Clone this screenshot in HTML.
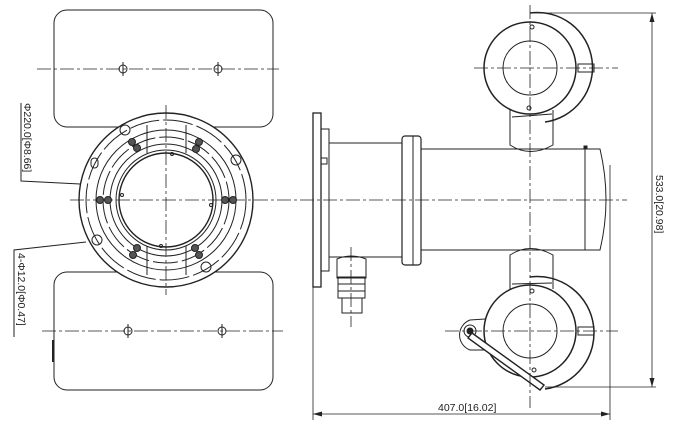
<!DOCTYPE html>
<html><head><meta charset="utf-8"><style>
html,body{margin:0;padding:0;background:#fff;}
svg{display:block;}
text{font-family:"Liberation Sans",sans-serif;font-size:10.5px;fill:#222;}
</style></head><body>
<svg width="700" height="438" viewBox="0 0 700 438" xmlns="http://www.w3.org/2000/svg">
<g fill="none" stroke="#222" stroke-width="1">
<!-- LEFT VIEW -->
<rect x="54" y="10" width="219" height="117" rx="13"/>
<rect x="54" y="272" width="219" height="118" rx="13"/>
<g stroke-dasharray="14,3,3,3" stroke-width="0.8">
<line x1="37" y1="69" x2="279" y2="69"/>
<line x1="42" y1="331" x2="283" y2="331"/>
</g>
<g>
<circle cx="123" cy="69" r="4"/><line x1="123" y1="62" x2="123" y2="76"/>
<circle cx="218" cy="69" r="4"/><line x1="218" y1="62" x2="218" y2="76"/>
<circle cx="128" cy="331" r="4"/><line x1="128" y1="324" x2="128" y2="338"/>
<circle cx="222" cy="331" r="4"/><line x1="222" y1="324" x2="222" y2="338"/>
</g>
<path d="M53 340 L53 362" stroke-width="2"/>
<!-- ring -->
<circle cx="166" cy="200" r="87" fill="#fff" stroke-width="1.4"/>
<circle cx="166" cy="200" r="80" stroke-dasharray="30,4"/>
<circle cx="166" cy="200" r="70"/>
<circle cx="166" cy="200" r="63" stroke-dasharray="25,4"/>
<circle cx="166" cy="200" r="56"/>
<circle cx="166" cy="200" r="50"/>
<circle cx="166" cy="200" r="47" stroke-width="1.4"/>
<g stroke-dasharray="14,3,3,3" stroke-width="0.8">
<line x1="70" y1="200" x2="300" y2="200"/>
<line x1="166" y1="105" x2="166" y2="295"/>
</g>
<line x1="147" y1="125" x2="147" y2="153"/><line x1="186" y1="125" x2="186" y2="153"/>
<line x1="147" y1="246" x2="147" y2="275"/><line x1="186" y1="246" x2="186" y2="275"/>
<g fill="#555">
<circle cx="132" cy="142" r="3.5"/><circle cx="137" cy="148" r="3.5"/>
<circle cx="199" cy="142" r="3.5"/><circle cx="196" cy="149" r="3.5"/>
<circle cx="100" cy="200" r="3.5"/><circle cx="108" cy="200" r="3.5"/>
<circle cx="225" cy="200" r="3.5"/><circle cx="233" cy="200" r="3.5"/>
<circle cx="133" cy="255" r="3.5"/><circle cx="137" cy="248" r="3.5"/>
<circle cx="199" cy="255" r="3.5"/><circle cx="195" cy="248" r="3.5"/>
</g>
<circle cx="125" cy="130" r="5"/><circle cx="236" cy="160" r="5"/>
<circle cx="97" cy="240" r="5"/><circle cx="206" cy="267" r="5"/>
<rect x="91" y="158" width="7" height="10" rx="3.5"/>
<circle cx="172" cy="154" r="1.5"/><circle cx="122" cy="195" r="1.5"/><circle cx="211" cy="205" r="1.5"/><circle cx="161" cy="246" r="1.5"/>
<polyline points="21,103 21,181 80,184"/>
<polyline points="14,337 14,250 86,242"/>
<!-- RIGHT VIEW -->
<rect x="313" y="113" width="8" height="174" stroke-width="1.3"/>
<rect x="321" y="129" width="8" height="142"/>
<rect x="329" y="143" width="73" height="114"/>
<rect x="402" y="136" width="19" height="129" rx="3" stroke-width="1.2"/>
<line x1="413" y1="136" x2="413" y2="265"/>
<rect x="421" y="149" width="164" height="101"/>
<path d="M585 149 L600 149 Q612 200 600 250 L585 250"/>
<rect x="584" y="146" width="3" height="3" fill="#222"/>
<rect x="321" y="158" width="6" height="6"/>
<path d="M510 110 L510 145 Q530 158 553 145 L553 110"/>
<path d="M510 289 L510 255 Q530 242 553 255 L553 289"/>
<path d="M337 278 L337 259 Q351 253 366 259 L366 278 Z"/>
<rect x="338" y="277" width="27" height="21"/>
<line x1="338" y1="284" x2="365" y2="284"/><line x1="338" y1="291" x2="365" y2="291"/>
<rect x="342" y="298" width="20" height="15"/>
<!-- upper housing -->
<circle cx="530" cy="68" r="46" fill="#fff" stroke-width="1.5"/>
<circle cx="530" cy="68" r="27"/>
<path d="M530 13 A55 55 0 0 1 545 122" stroke-width="1.5"/>
<rect x="578" y="64" width="16" height="8"/>
<circle cx="532" cy="27" r="2"/><circle cx="529" cy="108" r="2"/>
<line x1="512" y1="117" x2="552" y2="114"/>
<!-- lower housing -->
<path d="M470 320 A16 16 0 0 0 470 350 L500 350 L500 318 Z"/>
<circle cx="470" cy="331" r="6"/><circle cx="470" cy="331" r="3" fill="#222"/>
<circle cx="530" cy="331" r="46" fill="#fff" stroke-width="1.5"/>
<circle cx="530" cy="331" r="27"/>
<path d="M530 277 A55 55 0 0 1 545 389" stroke-width="1.5"/>
<rect x="578" y="327" width="16" height="8"/>
<circle cx="532" cy="291" r="2"/><circle cx="534" cy="370" r="2"/>
<line x1="512" y1="284" x2="552" y2="283"/>
<path d="M472 333 L544 385 L540 390 L468 338 Z" fill="#fff" stroke-width="1.4"/>
<g stroke-dasharray="14,3,3,3" stroke-width="0.8">
<line x1="300" y1="200" x2="627" y2="200"/>
<line x1="530" y1="5" x2="530" y2="408"/>
<line x1="474" y1="68" x2="618" y2="68"/>
<line x1="445" y1="331" x2="618" y2="331"/>
<line x1="351" y1="247" x2="351" y2="327"/>
</g>
<g stroke-width="0.8">
<line x1="530" y1="13" x2="656" y2="13"/>
<line x1="545" y1="387" x2="656" y2="387"/>
<line x1="652" y1="13" x2="652" y2="387"/>
<line x1="313" y1="287" x2="313" y2="420"/>
<line x1="610" y1="165" x2="610" y2="420"/>
<line x1="313" y1="414" x2="610" y2="414"/>
</g>
<g fill="#222" stroke="none">
<path d="M652 13 L649.5 22 L654.5 22 Z"/><path d="M652 387 L649.5 378 L654.5 378 Z"/>
<path d="M313 414 L322 411.5 L322 416.5 Z"/><path d="M610 414 L601 411.5 L601 416.5 Z"/>
</g>
</g>
<text transform="translate(24,103) rotate(90)">Φ220.0[Φ8.66]</text>
<text transform="translate(18,253) rotate(90)">4-Φ12.0[Φ0.47]</text>
<text transform="translate(656,175) rotate(90)">533.0[20.98]</text>
<text x="438" y="411">407.0[16.02]</text>
</svg>
</body></html>
